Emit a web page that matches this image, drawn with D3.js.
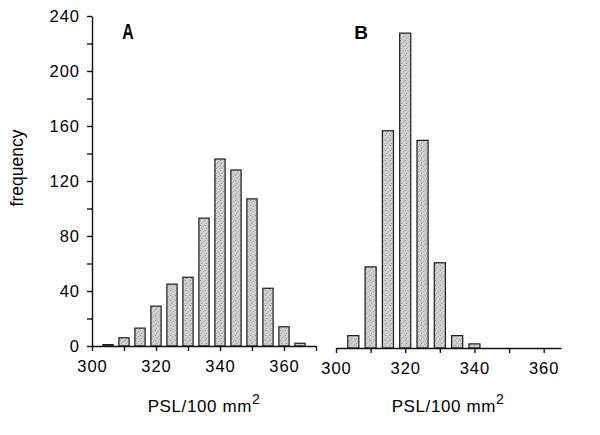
<!DOCTYPE html>
<html>
<head>
<meta charset="utf-8">
<script src="https://cdn.jsdelivr.net/npm/d3@7"></script>
<style>
  body { margin: 0; background: #fff; }
  svg text { font-family: "Liberation Sans", Arial, sans-serif; fill: #000; }
  .axis path, .axis line { stroke: #111; stroke-width: 1.4; }
  .axis text { font-size: 16.5px; letter-spacing: 1px; }
  .bar { stroke: #1a1a1a; stroke-width: 1.2; }
</style>
</head>
<body>
<div id="chart"></div>
<script>
// histogram A
const binsA = [305, 310, 315, 320, 325, 330, 335, 340, 345, 350, 355, 360, 365];
const countsA = [1, 6, 13, 29, 45, 50, 93, 136, 128, 107, 42, 14, 2];
// histogram B
const binsB = [305, 310, 315, 320, 325, 330, 335, 340];
const countsB = [9, 59, 158, 229, 151, 62, 9, 3];

const yTicks = [0, 20, 40, 60, 80, 100, 120, 140, 160, 180, 200, 220, 240];
const xTicksA = [300, 310, 320, 330, 340, 350, 360, 370];
const xTicksB = [300, 310, 320, 330, 340, 350, 360];
const barW = 3.2; // in PSL units

const width = 600, height = 435;

const svg = d3.select("#chart").append("svg")
  .attr("width", width)
  .attr("height", height);

// stipple look for the bars
const defs = svg.append("defs");
const pat = defs.append("pattern")
  .attr("id", "stipple")
  .attr("width", 5)
  .attr("height", 5)
  .attr("patternUnits", "userSpaceOnUse");
pat.append("rect").attr("width", 5).attr("height", 5).attr("fill", "#d0d0d0");
[[0, 0, "#969696"], [3, 1, "#aaaaaa"], [1, 3, "#a0a0a0"], [4, 4, "#b8b8b8"], [2, 2, "#bcbcbc"]]
  .forEach(function(p) {
    pat.append("rect").attr("x", p[0]).attr("y", p[1])
      .attr("width", 1).attr("height", 1).attr("fill", p[2]);
  });

let yA = d3.scaleLinear().domain([0, 240]).range([346, 16]);
let yB = d3.scaleLinear().domain([0, 240]).range([348, 18]);

let xA = d3.scaleLinear().domain([300, 370]).range([92, 316]);
let xB = d3.scaleLinear().domain([300, 365]).range([336, 561]);

// bars A
svg.selectAll(".barA")
  .data(binsA)
  .enter().append("rect")
  .attr("class", "bar")
  .attr("fill", "url(#stipple)")
  .attr("x", function(d) { return xA(d - barW / 2); })
  .attr("width", function(d) { return xA(d + barW / 2) - xA(d - barW / 2); })
  .attr("y", function(d, i) { return yA(countsA[i]); })
  .attr("height", function(d, i) { return yA(0) - yA(countsA[i]); });

// bars B
svg.selectAll(".barB")
  .data(binsB)
  .enter().append("rect")
  .attr("class", "bar")
  .attr("fill", "url(#stipple)")
  .attr("x", function(d) { return xB(d - barW / 2); })
  .attr("width", function(d) { return xB(d + barW / 2) - xB(d - barW / 2); })
  .attr("y", function(d, i) { return yB(countsB[i]); })
  .attr("height", function(d, i) { return yB(0) - yB(countsB[i]); });

let yAxis = d3.axisLeft(yA)
  .tickValues(yTicks)
  .tickSize(5)
  .tickSizeOuter(0)
  .tickPadding(7)
  .tickFormat(function(d) { return d % 40 === 0 ? d : ""; });

let xAxisA = d3.axisBottom(xA)
  .tickValues(xTicksA)
  .tickSize(5)
  .tickSizeOuter(0)
  .tickPadding(9)
  .tickFormat(function(d) { return (d % 20 === 0 && d < 370) ? d : ""; });

let xAxisB = d3.axisBottom(xB)
  .tickValues(xTicksB)
  .tickSize(5)
  .tickSizeOuter(0)
  .tickPadding(9)
  .tickFormat(function(d) { return d % 20 === 0 ? d : ""; });

svg.append("g")
  .attr("class", "axis y")
  .attr("transform", "translate(92,0)")
  .call(yAxis);

svg.append("g")
  .attr("class", "axis xA")
  .attr("transform", "translate(0,346)")
  .call(xAxisA);

svg.append("g")
  .attr("class", "axis xB")
  .attr("transform", "translate(0,348)")
  .call(xAxisB);

svg.selectAll(".axis .domain").attr("stroke-width", 1.6);

// axis titles
svg.append("text")
  .attr("transform", "translate(23,168) rotate(-90)")
  .attr("text-anchor", "middle")
  .style("font-size", "17.5px")
  .text("frequency");

function xTitle(cx) {
  let t = svg.append("text")
    .attr("x", cx)
    .attr("y", 412)
    .attr("text-anchor", "middle")
    .style("font-size", "17px")
    .style("letter-spacing", "0.6px");
  t.append("tspan").text("PSL/100 mm");
  t.append("tspan").attr("dy", -8).style("font-size", "14px").text("2");
}
xTitle(204);
xTitle(448);

// panel letters (A is a narrow, tall bold letter in the figure)
svg.append("text")
  .attr("transform", "translate(128,39) scale(0.72,1)")
  .attr("text-anchor", "middle")
  .style("font-weight", "bold")
  .style("font-size", "22px")
  .text("A");

svg.append("text")
  .attr("x", 361)
  .attr("y", 39)
  .attr("text-anchor", "middle")
  .style("font-weight", "bold")
  .style("font-size", "19px")
  .text("B");
</script>
</body>
</html>
